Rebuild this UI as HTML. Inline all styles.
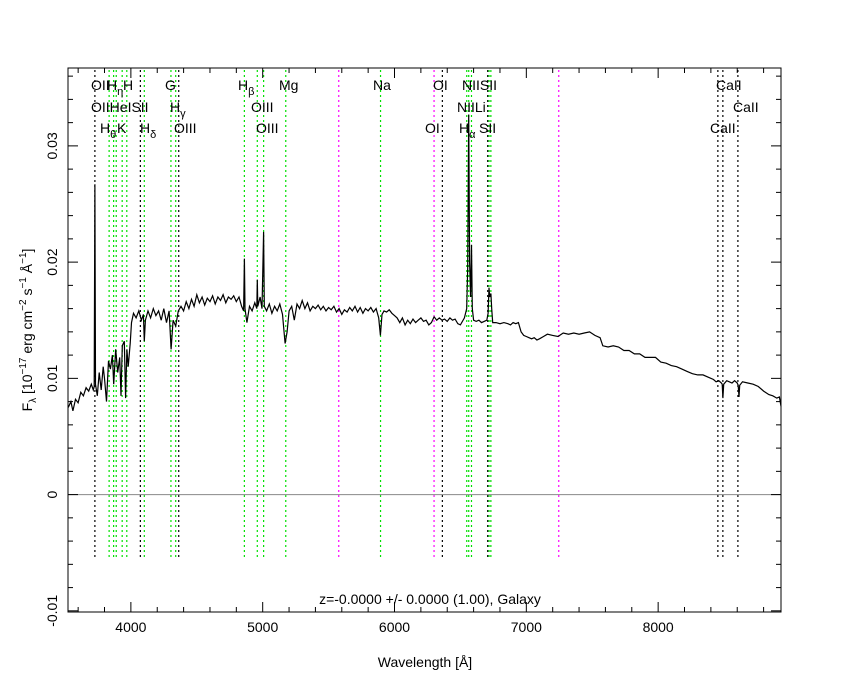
<!DOCTYPE html>
<html><head><meta charset="utf-8"><style>
body{margin:0;background:#fff;width:850px;height:680px;overflow:hidden}
svg{display:block;font-family:"Liberation Sans","DejaVu Sans",sans-serif}
</style></head><body>
<svg id="chart" width="850" height="680"></svg>
<script>
const wavelengths=[3525,3545,3560,3580,3600,3620,3640,3660,3680,3700,3715,3722,3727,3732,3745,3760,3775,3790,3800,3815,3830,3845,3860,3870,3885,3900,3915,3925,3935,3950,3960,3970,3980,3995,4005,4020,4040,4060,4080,4095,4102,4110,4130,4150,4170,4190,4210,4230,4250,4270,4290,4305,4320,4340,4360,4380,4400,4420,4440,4460,4480,4500,4520,4540,4560,4580,4600,4620,4640,4660,4680,4700,4720,4740,4760,4780,4800,4820,4840,4855,4861,4866,4880,4900,4920,4940,4955,4959,4963,4980,4995,5007,5012,5030,5050,5070,5090,5110,5130,5150,5170,5185,5200,5220,5240,5260,5280,5300,5320,5340,5360,5380,5400,5420,5440,5460,5480,5500,5520,5540,5560,5580,5600,5620,5640,5660,5680,5700,5720,5740,5760,5780,5800,5820,5840,5860,5880,5893,5905,5920,5940,5960,5980,6000,6020,6040,6060,6080,6100,6120,6140,6160,6180,6200,6220,6240,6260,6280,6300,6320,6340,6360,6380,6400,6420,6440,6460,6480,6500,6530,6548,6555,6563,6570,6577,6584,6590,6600,6620,6640,6660,6680,6700,6710,6717,6722,6731,6737,6745,6770,6800,6830,6860,6880,6900,6920,6940,6960,6980,7000,7020,7040,7060,7080,7100,7130,7160,7200,7240,7280,7320,7360,7400,7440,7480,7520,7560,7580,7620,7660,7700,7740,7780,7820,7860,7900,7940,7980,8020,8060,8100,8140,8180,8220,8260,8300,8340,8380,8420,8440,8460,8480,8486,8491,8497,8520,8540,8560,8580,8600,8607,8613,8619,8640,8680,8720,8760,8800,8840,8870,8900,8920,8932];
const fluxes=[.0075,.0080,.0072,.0082,.0079,.0088,.0085,.0092,.0089,.0095,.0090,.0093,.0267,.0095,.0085,.0105,.0090,.0110,.0100,.0080,.0115,.0108,.0120,.0095,.0125,.0105,.0118,.0085,.0128,.0132,.0083,.0125,.0110,.0130,.0148,.0156,.0152,.0158,.0150,.0155,.0132,.0150,.0158,.0152,.0160,.0154,.0158,.0150,.0160,.0148,.0158,.0125,.0150,.0145,.0158,.0162,.0158,.0166,.0160,.0168,.0162,.0172,.0165,.0170,.0163,.0169,.0166,.0171,.0164,.0170,.0167,.0172,.0165,.0170,.0168,.0171,.0166,.0170,.0162,.0158,.0203,.0160,.0148,.0162,.0158,.0165,.0160,.0185,.0162,.0170,.0160,.0226,.0162,.0158,.0164,.0156,.0162,.0158,.0164,.0155,.0130,.0140,.0158,.0162,.0150,.0164,.0160,.0167,.0160,.0165,.0158,.0162,.0160,.0163,.0159,.0162,.0158,.0161,.0159,.0162,.0157,.0160,.0155,.0159,.0157,.0161,.0158,.0162,.0157,.0161,.0156,.0160,.0158,.0161,.0157,.0160,.0152,.0137,.0155,.0158,.0157,.0159,.0156,.0154,.0152,.0148,.0152,.0146,.0150,.0147,.0151,.0148,.0150,.0152,.0149,.0150,.0146,.0148,.0153,.0150,.0152,.0150,.0151,.0149,.0152,.0150,.0151,.0147,.0146,.0152,.0160,.0195,.0327,.0200,.0170,.0215,.0160,.0150,.0149,.0150,.0148,.0149,.0150,.0156,.0178,.0170,.0173,.0160,.0148,.0148,.0147,.0148,.0147,.0146,.0148,.0147,.0148,.0140,.0137,.0136,.0135,.0134,.0135,.0133,.0134,.0136,.0138,.0137,.0136,.0139,.0138,.0139,.0138,.0139,.0140,.0137,.0135,.0128,.0127,.0128,.0127,.0124,.0124,.0121,.0121,.0118,.0118,.0118,.0114,.0113,.0111,.0110,.0108,.0106,.0104,.0103,.0103,.0101,.0099,.0097,.0098,.0096,.0095,.0083,.0095,.0098,.0097,.0096,.0098,.0096,.0094,.0084,.0094,.0097,.0096,.0095,.0093,.0089,.0086,.0085,.0083,.0084,.0076];
const xTickLabels=[4000,5000,6000,7000,8000];
const yTickLabels=[-0.01,0,0.01,0.02,0.03];
const lineWaves=[3727,3835,3869,3889,3934,3969,4072,4102,4304,4340,4363,4861,4959,5007,5175,5577,5894,6300,6363,6548,6563,6584,6707,6717,6731,7246,8453,8491,8605];
const lineColors=["k","g","g","g","g","g","k","g","g","g","k","g","g","g","g","m","g","m","k","g","g","g","k","g","g","m","k","k","k"];
const labelTexts=["OII","H","H","G","H","Mg","Na","OI","NIISII","CaII","OIIHeISII","H","OIII","NIILi","CaII","H","K","H","OIII","OIII","OI","H","SII","CaII"];
const labelSubs=["","η","","","β","","","","","","","γ","","","","θ","","δ","","","","α","",""];
const labelX=[91,107,123,165,238,279,373,433,462,716,91,170,251,457,733,100,117,140,174,256,425,459,479,710];
const labelRow=[0,0,0,0,0,0,0,0,0,0,1,1,1,1,1,2,2,2,2,2,2,2,2,2];

const L=68,R=781,T=68,B=612,X0=3523,X1=8932,Y0=-0.0101,Y1=0.0367;
const sx=w=>L+(w-X0)/(X1-X0)*(R-L);
const sy=f=>B-(f-Y0)/(Y1-Y0)*(B-T);
const svg=document.getElementById('chart');
const NS='http://www.w3.org/2000/svg';
function mk(tag,attrs,parent){const e=document.createElementNS(NS,tag);for(const k in attrs)e.setAttribute(k,attrs[k]);(parent||svg).appendChild(e);return e;}
const col={k:'#000',g:'#00e000',m:'#ff00ff'};
lineWaves.forEach((w,i)=>{
  const e=mk('line',{x1:sx(w),x2:sx(w),y1:T+2,y2:558,stroke:col[lineColors[i]],'stroke-width':1.2,'stroke-dasharray':'2,3'});
  
  
});
const z=mk('line',{x1:L,x2:R,y1:sy(0),y2:sy(0),stroke:'#888','stroke-width':1});


const pts=wavelengths.map((w,i)=>sx(w).toFixed(1)+','+sy(fluxes[i]).toFixed(1)).join(' ');
const sp=mk('polyline',{points:pts,fill:'none',stroke:'#000','stroke-width':1.2});


const fr=mk('rect',{x:L,y:T,width:R-L,height:B-T,fill:'none',stroke:'#000','stroke-width':1});


for(let w=3600;w<=X1;w+=200){const major=w%1000===0,len=major?10:5;const x=sx(w);
  mk('line',{x1:x,x2:x,y1:B,y2:B-len,stroke:'#000'});mk('line',{x1:x,x2:x,y1:T,y2:T+len,stroke:'#000'});}
xTickLabels.forEach(v=>{const t=mk('text',{x:sx(v),y:B+20,'text-anchor':'middle','font-size':14,fill:'#000'});t.textContent=v;
  });
for(let k=-5;k<=18;k++){const f=k*0.002;const major=k%5===0,len=major?10:5;const y=sy(f);
  mk('line',{x1:L,x2:L+len,y1:y,y2:y,stroke:'#000'});mk('line',{x1:R,x2:R-len,y1:y,y2:y,stroke:'#000'});}
yTickLabels.forEach(v=>{const y=sy(v);const t=mk('text',{x:57,y:y,'text-anchor':'middle','font-size':14,fill:'#000',transform:`rotate(-90 57 ${y})`});
  t.textContent=v===0?'0':String(v);});
const rowY=[90,112,133];
labelTexts.forEach((s,i)=>{const t=mk('text',{x:labelX[i],y:rowY[labelRow[i]],'font-size':14,fill:'#000'});t.textContent=s;
  if(labelSubs[i]){const ts=mk('tspan',{dy:5,'font-size':11},t);ts.textContent=labelSubs[i];}
  });
let t=mk('text',{x:430,y:604,'text-anchor':'middle','font-size':14,fill:'#000'});t.textContent='z=-0.0000 +/- 0.0000 (1.00), Galaxy';

t=mk('text',{x:425,y:667,'text-anchor':'middle','font-size':14,fill:'#000'});t.textContent='Wavelength [Å]';

t=mk('text',{x:32,y:330,'text-anchor':'middle','font-size':14,fill:'#000',transform:'rotate(-90 32 330)'});
t.innerHTML='F<tspan dy="4" font-size="10">λ</tspan><tspan dy="-4"> [10</tspan><tspan dy="-6" font-size="10">−17</tspan><tspan dy="6"> erg cm</tspan><tspan dy="-6" font-size="10">−2</tspan><tspan dy="6"> s</tspan><tspan dy="-6" font-size="10">−1</tspan><tspan dy="6"> Å</tspan><tspan dy="-6" font-size="10">−1</tspan><tspan dy="6">]</tspan>';

</script>
</body></html>
